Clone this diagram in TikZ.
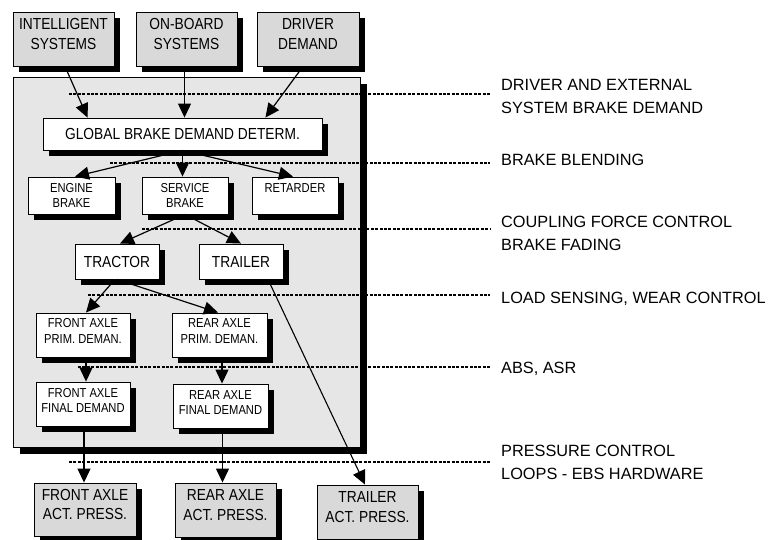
\documentclass[tikz,border=0pt]{standalone}
\usepackage{fontspec}
\setmainfont{Liberation Sans}
\newfontfamily\narrowsans{Liberation Sans}[FakeStretch=0.86]
\usetikzlibrary{shadows,arrows.meta}
\definecolor{boxgray}{RGB}{217,217,217}
\definecolor{panelgray}{RGB}{230,230,230}
\newcommand\mydep[1]{\rule[-#1]{0pt}{#1}}
\tikzset{
  bx/.style={draw=black, line width=0.9pt, align=center, inner sep=0pt,
    drop shadow={shadow xshift=6pt, shadow yshift=-6pt, fill=black, opacity=1}},
  graybox/.style={bx, fill=boxgray, font=\narrowsans\fontsize{16}{19.5}\selectfont},
  whitebig/.style={bx, fill=white, font=\narrowsans\fontsize{16}{20}\selectfont},
  whitesmall/.style={bx, fill=white, font=\narrowsans\fontsize{13}{15.5}\selectfont},
  arr/.style={line width=1.2pt, -{Triangle[length=14pt,width=13pt]}},
  seper/.style={line width=1.6pt, dash pattern=on 3pt off 1.4pt},
  lbl/.style={anchor=west, align=left, inner sep=0pt, text depth=0pt,
    font=\fontsize{16.3}{22.5}\selectfont},
}
\begin{document}
\begin{tikzpicture}[x=1pt,y=-1pt]
\useasboundingbox (0,0) rectangle (772,539);

% panel
\node[draw=black, line width=0.9pt, fill=panelgray, inner sep=0pt,
  minimum width=347pt, minimum height=370pt,
  drop shadow={shadow xshift=7pt, shadow yshift=-6.5pt, fill=black, opacity=1}]
  (panel) at (186.5,262) {};

% separator lines
\coordinate (d1a) at (69,94);   \coordinate (d1b) at (490,94);
\coordinate (d2a) at (110,163); \coordinate (d2b) at (490,163);
\coordinate (d3a) at (142,229); \coordinate (d3b) at (490,229);
\coordinate (d4a) at (88,295);  \coordinate (d4b) at (490,295);
\coordinate (d5a) at (78,367);  \coordinate (d5b) at (490,367);
\coordinate (d6a) at (69,462);  \coordinate (d6b) at (490,462);
\draw[seper] (d1a) -- (d1b);
\draw[seper] (d2a) -- (d2b);
\draw[seper] (d3a) -- (d3b);
\draw[seper] (d4a) -- (d4b);
\draw[seper] (d5a) -- (d5b);
\draw[seper] (d6a) -- (d6b);

% labels
\node[lbl] (l1) at (501,96.5) {DRIVER AND EXTERNAL\\SYSTEM BRAKE DEMAND};
\node[lbl] (l2) at (501,160) {BRAKE BLENDING};
\node[lbl] (l3) at (501,233.5) {COUPLING FORCE CONTROL\\BRAKE FADING};
\node[lbl] (l4) at (501,298) {LOAD SENSING, WEAR CONTROL};
\node[lbl] (l5) at (501,368) {ABS, ASR};
\node[lbl] (l6) at (501,462.5) {PRESSURE CONTROL\\LOOPS - EBS HARDWARE};

% top boxes
\node[graybox, minimum width=101pt, minimum height=54pt] (intel) at (63.5,39) {INTELLIGENT\\SYSTEMS\mydep{10pt}};
\node[graybox, minimum width=101pt, minimum height=54pt] (onboard) at (186.5,39) {ON-BOARD\\SYSTEMS\mydep{10pt}};
\node[graybox, minimum width=102pt, minimum height=54pt] (driver) at (308,39) {DRIVER\\DEMAND\mydep{10pt}};

% inner boxes
\node[whitebig, minimum width=279pt, minimum height=32pt] (global) at (182.5,134) {GLOBAL BRAKE DEMAND DETERM.};
\node[whitesmall, minimum width=87pt, minimum height=37pt] (engine) at (71.5,195.5) {ENGINE\\BRAKE};
\node[whitesmall, minimum width=86pt, minimum height=37pt] (service) at (185,195.5) {SERVICE\\BRAKE};
\node[whitesmall, minimum width=86pt, minimum height=37pt] (retarder) at (295,195.5) {RETARDER\mydep{15pt}};
\node[whitebig, minimum width=84pt, minimum height=35pt] (tractor) at (117,261.5) {TRACTOR};
\node[whitebig, minimum width=84pt, minimum height=35pt] (trailer) at (241,261.5) {TRAILER};
\node[whitesmall, minimum width=94pt, minimum height=44pt] (fprim) at (83,335) {FRONT AXLE\\PRIM. DEMAN.\mydep{8pt}};
\node[whitesmall, minimum width=95pt, minimum height=44pt] (rprim) at (219.5,335) {REAR AXLE\\PRIM. DEMAN.\mydep{8pt}};
\node[whitesmall, minimum width=94pt, minimum height=44pt] (ffinal) at (83,404) {FRONT AXLE\\FINAL DEMAND\mydep{7pt}};
\node[whitesmall, minimum width=95pt, minimum height=44pt] (rfinal) at (220.5,406) {REAR AXLE\\FINAL DEMAND\mydep{7pt}};

% bottom boxes
\node[graybox, minimum width=102pt, minimum height=53pt] (fact) at (85,509.5) {FRONT AXLE\\ACT. PRESS.\mydep{10pt}};
\node[graybox, minimum width=101pt, minimum height=54pt] (ract) at (225.5,510) {REAR AXLE\\ACT. PRESS.\mydep{10pt}};
\node[graybox, minimum width=101pt, minimum height=54pt] (tact) at (367.5,512) {TRAILER\\ACT. PRESS.\mydep{10pt}};

% connectors
\draw[arr] ([xshift=1.5pt]intel.south) -- ([xshift=45pt]global.north west);
\draw[arr] ([xshift=-2pt]onboard.south) -- ([xshift=-2pt]onboard.south |- global.north);
\draw[arr] ([xshift=-5pt]driver.south) -- ([xshift=-57pt]global.north east);
\draw[arr] (global.south) -- ([xshift=3.5pt]engine.north);
\draw[arr] (global.south) -- (global.south |- service.north);
\draw[arr] (global.south) -- ([xshift=-2pt]retarder.north);
\draw[arr] (service.south) -- ([xshift=3pt]tractor.north);
\draw[arr] (service.south) -- (trailer.north);
\draw[arr] ([xshift=-2pt]tractor.south) -- ([xshift=3pt]fprim.north);
\draw[arr] (tractor.south) -- ([xshift=-1.5pt]rprim.north);
\draw[arr] ([xshift=3pt]fprim.south) -- ([xshift=3pt]ffinal.north);
\draw[arr] ([xshift=2.5pt]rprim.south) -- ([xshift=2.5pt]rprim.south |- rfinal.north);
\draw[arr] ([xshift=1pt]ffinal.south) -- ([xshift=1pt]ffinal.south |- fact.north);
\draw[arr] ([xshift=2pt]rfinal.south) -- ([xshift=2pt]rfinal.south |- ract.north);
\draw[arr, line width=1.1pt] ([xshift=27pt]trailer.south) -- ([xshift=-2.5pt]tact.north);
\end{tikzpicture}
\end{document}
